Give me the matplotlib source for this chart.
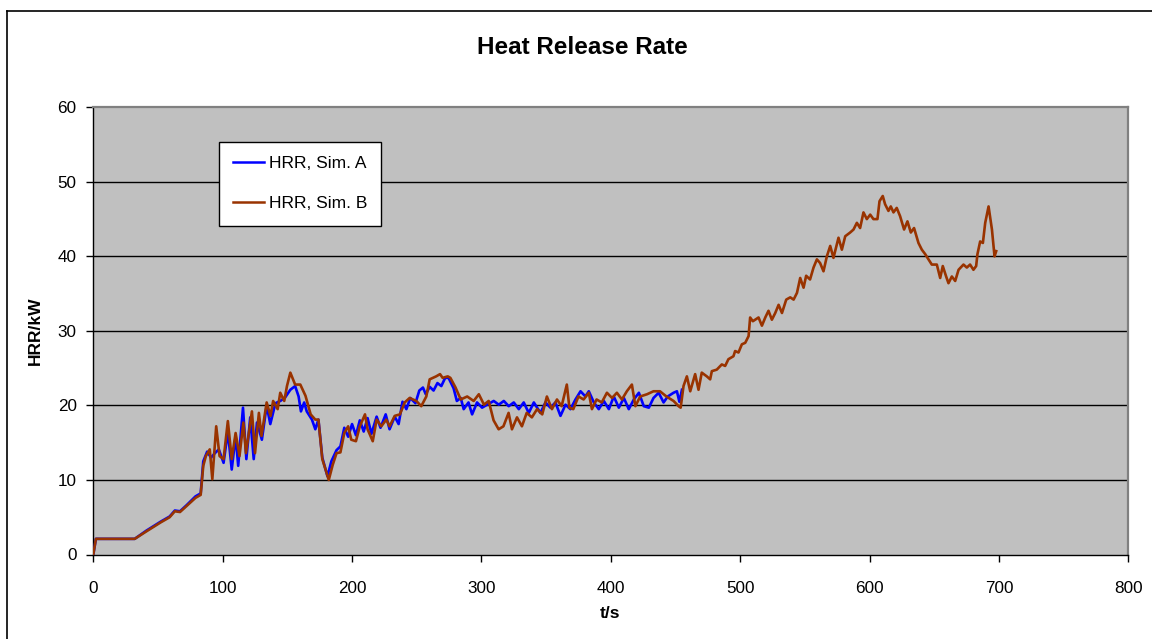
import matplotlib
matplotlib.use("Agg")
import matplotlib.pyplot as plt
from matplotlib.lines import Line2D

plt.rcParams['font.family'] = ['Liberation Sans', 'DejaVu Sans']

# ---------------- data ----------------
t_a = [0, 2, 32, 41, 52, 59, 63, 67, 72, 79, 83, 85, 88, 91, 94, 97, 100.7, 104, 107, 110,
       112, 115.7, 118.3, 121.3, 124, 126.5, 130.3, 134, 136.8, 140.8, 144.5, 148, 152.3, 156,
       158.7, 160.5, 163, 165, 169, 171.6, 174, 177, 181, 184, 188, 191, 194, 197, 200, 203,
       206, 209, 212, 215, 219, 222, 226, 229, 233, 236, 239, 242, 245, 249, 252, 254.8, 257,
       260, 263, 266, 269, 272, 274.6, 278.5, 281, 284, 286.3, 290, 292.8, 296.6, 300.5,
       304.4, 309.5, 313.4, 317.3, 321.1, 325, 328.9, 332.7, 336.6, 340.5, 345.6, 349.5,
       353.3, 357.2, 361.1, 365, 368.8, 372.7, 376.6, 380.4, 383, 386.9, 390.7, 394.6, 398.5,
       402.3, 406.2, 410.1, 413.9, 417.8, 421.7, 425.5, 429.4, 433, 437, 440.8, 444, 448.5,
       451.1, 453, 455]
hrr_a = [0, 2.1, 2.1, 3.2, 4.4, 5.1, 5.9, 5.8, 6.6, 7.8, 8.2, 12.5, 13.8, 13.0, 13.6, 14.1,
         12.3, 16.5, 11.4, 15.9, 11.9, 19.7, 12.8, 18.4, 12.8, 17.7, 15.4, 20.0, 17.5, 20.3,
         20.6, 21.0, 22.1, 22.6, 21.2, 19.2, 20.4, 19.2, 18.1, 16.8, 18.1, 13.0, 10.5, 12.5,
         14.0, 14.5, 17.0, 15.8, 17.5, 16.0, 18.0, 16.5, 18.3, 16.2, 18.5, 17.0, 18.8, 16.8,
         18.5, 17.5, 20.5, 19.5, 21.0, 20.3, 22.0, 22.4, 21.5, 22.5, 22.0, 23.0, 22.6, 23.7,
         23.7, 22.3, 20.6, 21.0, 19.5, 20.4, 18.8, 20.4, 19.7, 20.1, 20.6, 20.1, 20.6, 19.9,
         20.4, 19.5, 20.4, 19.0, 20.4, 19.0, 20.4, 19.7, 20.4, 18.6, 20.1, 19.5, 20.8, 21.9,
         21.2, 21.9, 20.4, 19.5, 20.6, 19.5, 21.2, 19.7, 21.0, 19.5, 20.8, 21.7, 19.9, 19.7,
         21.0, 21.7, 20.4, 21.2, 21.7, 21.9, 20.5, 22.1]

t_b = [0, 2, 32, 41, 52, 59, 63, 67, 72, 79, 83, 85, 87, 90, 92, 95, 97.6, 100.7, 104, 107,
       110, 113, 116, 118, 122.6, 125, 128, 130, 134, 137, 139, 142.5, 144.5, 147.6, 149.7,
       152.3, 156, 160, 164, 168, 171.6, 174, 177, 182, 185, 188, 191, 194, 197, 199.4, 203,
       206, 210, 212, 216, 219, 222.6, 226.5, 229, 233, 237, 240.7, 244.5, 249.7, 253.5,
       257.4, 260, 265, 268, 270, 274, 276, 280, 284, 289, 294, 298, 302, 305.6, 309.4,
       313.3, 317, 321, 323.6, 327.5, 331.3, 335, 339, 343, 347, 350.6, 354.5, 358.4, 362,
       366, 368, 371, 375, 379, 383, 385.4, 389, 393, 397, 401, 404.7, 408.6, 412.4, 416.3,
       419, 422.7, 428, 433, 438, 443, 448.5, 452.4, 454, 456.2, 458.8, 461.4, 465.2, 467.8,
       470.3, 474.2, 476.8, 478.1, 481.9, 485.8, 488.4, 490.9, 494.8, 496.1, 498.7, 501.3,
       503.9, 506.5, 507.7, 509.8, 511.6, 514.2, 516.8, 519.4, 521.9, 524.5, 527.1, 529.7,
       532.3, 535.6, 538.7, 541.3, 543.9, 546.4, 549, 551, 554, 556.7, 559.3, 561.8, 564.4,
       567, 569.6, 572.1, 576, 578.6, 581.2, 585, 587.6, 590.2, 592.7, 595.3, 597.9, 600.5,
       603, 606.1, 607.7, 610.2, 612, 614.6, 616.4, 618.5, 621, 623.6, 626.7, 629.3, 631.9,
       634.4, 637.8, 640.4, 643, 645.5, 648.1, 652, 654.6, 656.6, 659.2, 661, 663.6, 666.2,
       668.8, 672.6, 675.2, 677.7, 680.3, 682.4, 683.4, 685.5, 687.6, 689.4, 692, 694.6,
       696.6, 697.9]
hrr_b = [0, 2.1, 2.1, 3.1, 4.3, 5.0, 5.8, 5.7, 6.5, 7.6, 8.0, 11.9, 13.2, 14.1, 10.1, 17.2,
         13.2, 12.8, 17.9, 12.8, 16.3, 13.2, 17.7, 13.6, 19.2, 13.6, 19.0, 15.9, 20.4, 18.6,
         20.6, 19.5, 21.7, 20.6, 22.6, 24.4, 22.8, 22.8, 21.3, 18.8, 18.1, 18.1, 12.8, 10.0,
         12.0, 13.6, 13.7, 16.3, 17.2, 15.4, 15.2, 17.2, 18.8, 16.8, 15.2, 18.1, 17.2, 18.1,
         17.2, 18.6, 18.8, 20.4, 21.0, 20.6, 19.9, 21.2, 23.5, 23.9, 24.2, 23.7, 23.9, 23.7,
         22.4, 20.8, 21.2, 20.6, 21.5, 20.1, 20.6, 18.0, 16.8, 17.2, 19.0, 16.8, 18.4, 17.2,
         19.0, 18.4, 19.5, 18.8, 21.2, 19.5, 20.8, 19.9, 22.8, 19.7, 19.5, 21.2, 20.8, 21.7,
         19.5, 20.8, 20.4, 21.7, 21.0, 21.7, 20.8, 21.9, 22.8, 19.9, 21.2, 21.5, 21.9, 21.9,
         21.2, 20.6, 19.9, 19.7, 22.6, 23.9, 21.9, 24.2, 22.1, 24.4, 23.9, 23.5, 24.6, 24.8,
         25.5, 25.3, 26.2, 26.6, 27.3, 27.1, 28.2, 28.4, 29.3, 31.8, 31.3, 31.5, 31.8, 30.7,
         31.8, 32.7, 31.5, 32.4, 33.5, 32.4, 34.2, 34.5, 34.2, 35.1, 37.1, 35.8, 37.4, 36.9,
         38.5, 39.6, 39.1, 38.0, 40.0, 41.4, 39.8, 42.5, 40.9, 42.7, 43.2, 43.6, 44.5, 43.8,
         45.9, 45.0, 45.6, 45.0, 45.0, 47.4, 48.1, 47.0, 46.1, 46.7, 45.9, 46.5, 45.4, 43.6,
         44.7, 43.2, 43.8, 41.8, 40.9, 40.3, 39.6, 38.9, 38.9, 37.1, 38.7, 37.3, 36.4, 37.3,
         36.7, 38.2, 38.9, 38.5, 38.9, 38.2, 38.7, 40.3, 42.0, 41.8, 44.5, 46.7, 43.6, 40.0,
         40.7]

series_labels = ["HRR, Sim. A", "HRR, Sim. B"]
x_ticks = [0, 100, 200, 300, 400, 500, 600, 700, 800]
y_ticks = [0, 10, 20, 30, 40, 50, 60]
title = "Heat Release Rate"
x_label = "t/s"
y_label = "HRR/kW"

# ---------------- figure ----------------
W, H = 1152, 639
fig = plt.figure(figsize=(W / 100, H / 100), dpi=100)
fig.patch.set_facecolor('white')

ax = fig.add_axes([93.3 / W, 1 - 554.5 / H, (1128.3 - 93.3) / W, (554.5 - 107.3) / H])
ax.set_facecolor('#C0C0C0')

ax.plot(t_a, hrr_a, color='#0000FF', lw=1.9, label=series_labels[0], zorder=3)
ax.plot(t_b, hrr_b, color='#993300', lw=1.9, label=series_labels[1], zorder=4)

ax.set_xlim(0, 800)
ax.set_ylim(0, 60)
ax.set_xticks(x_ticks)
ax.set_yticks(y_ticks)
ax.tick_params(axis='both', direction='out', length=5, width=1, color='#000000',
               labelsize=12.3, pad=4)
ax.tick_params(axis='x', pad=14)
ax.tick_params(axis='y', pad=7)

for yv in y_ticks[1:-1]:
    ax.axhline(yv, color='#000000', lw=1.0, zorder=1)

for s in ['top', 'right']:
    ax.spines[s].set_color('#808080')
    ax.spines[s].set_linewidth(1.6)
for s in ['left', 'bottom']:
    ax.spines[s].set_color('#000000')
    ax.spines[s].set_linewidth(1.0)

fig.text(582 / W, 1 - 47 / H, title, ha='center', va='center', fontsize=17.5,
         fontweight='bold')
fig.text(610 / W, 1 - 613 / H, x_label, ha='center', va='center', fontsize=12.5,
         fontweight='bold')
fig.text(35 / W, 1 - 331 / H, y_label, ha='center', va='center', rotation=90,
         fontsize=12.5, fontweight='bold')

leg = ax.legend(loc='upper left', bbox_to_anchor=(219 / W, 1 - 142 / H),
                bbox_transform=fig.transFigure, borderaxespad=0, fancybox=False,
                framealpha=1, edgecolor='black', facecolor='white', fontsize=12.5,
                handlelength=1.75, handletextpad=0.3, labelspacing=1.43,
                borderpad=0.82)
leg.get_frame().set_linewidth(1.0)
for h in leg.get_lines():
    h.set_linewidth(1.8)

# outer chart border (top and left visible)
fig.add_artist(Line2D([7 / W, 1], [1 - 11 / H, 1 - 11 / H], color='black', lw=1.2,
                      transform=fig.transFigure))
fig.add_artist(Line2D([7 / W, 7 / W], [0, 1 - 11 / H], color='black', lw=1.2,
                      transform=fig.transFigure))

fig.savefig('out.png', dpi=100, facecolor='white')
